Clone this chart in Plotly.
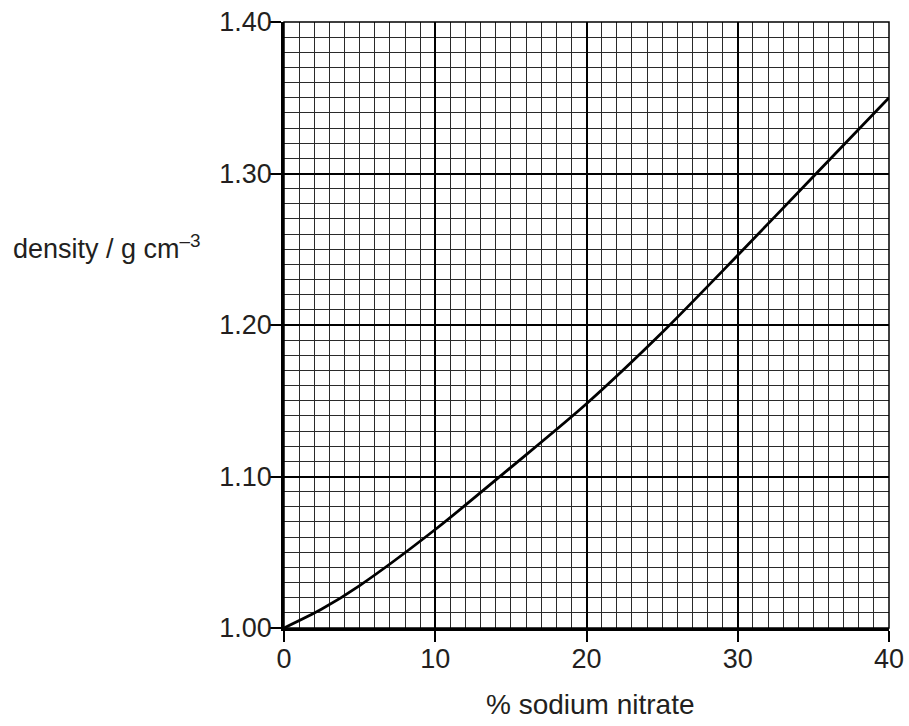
import plotly.graph_objects as go

percent = [0, 2.5, 5, 10, 15, 20, 25, 30, 35, 40]
density = [1.000, 1.0125, 1.028, 1.065, 1.106, 1.148, 1.195, 1.246, 1.298, 1.350]

x_ticks = [0, 10, 20, 30, 40]
y_ticks = [1.00, 1.10, 1.20, 1.30, 1.40]

font_family = "Liberation Sans, Arial, sans-serif"

fig = go.Figure()
fig.add_trace(go.Scatter(x=percent, y=density, mode="lines",
                         line=dict(color="black", width=2.8, shape="spline", smoothing=0.8),
                         showlegend=False, hoverinfo="skip"))

fig.update_layout(
    width=909, height=726,
    margin=dict(l=284, r=20, t=22, b=98),
    plot_bgcolor="white", paper_bgcolor="white",
    font=dict(family=font_family, size=27, color="#231f20"),
    xaxis=dict(range=[0, 40], tickvals=x_ticks, ticks="outside", ticklen=11, tickwidth=2,
               tickcolor="black", showline=True, linecolor="black", linewidth=2.5,
               showgrid=True, gridcolor="black", gridwidth=1.5, zeroline=False,
               minor=dict(dtick=1, showgrid=True, gridcolor="#2a2a2a", gridwidth=1, ticks=""),
               tickfont=dict(size=27), ticklabelstandoff=-6, ticklabeloverflow="allow",
               automargin=False, fixedrange=True),
    yaxis=dict(range=[1.0, 1.4], tickvals=y_ticks, tickformat=".2f", ticks="outside", ticklen=11,
               tickwidth=2, tickcolor="black", showline=True, linecolor="black", linewidth=2.5,
               showgrid=True, gridcolor="black", gridwidth=1.5, zeroline=False,
               minor=dict(dtick=0.01, showgrid=True, gridcolor="#2a2a2a", gridwidth=1, ticks=""),
               tickfont=dict(size=27), ticklabelstandoff=-7, ticklabeloverflow="allow",
               automargin=False, fixedrange=True),
)

fig.add_shape(type="rect", xref="paper", yref="paper", x0=0, y0=0, x1=1, y1=1,
              line=dict(color="black", width=1.5))

fig.add_annotation(text="density / g cm<sup>–3</sup>", xref="paper", yref="paper",
                   x=-0.2926, y=0.629, xanchor="center", yanchor="middle", showarrow=False,
                   font=dict(size=27, family=font_family, color="#231f20"))
fig.add_annotation(text="% sodium nitrate", xref="paper", yref="paper",
                   x=0.506, y=-0.127, xanchor="center", yanchor="middle", showarrow=False,
                   font=dict(size=28, family=font_family, color="#231f20"))

fig.write_html("out.html", config={"displayModeBar": False},
               post_script="document.body.style.margin='0';")
